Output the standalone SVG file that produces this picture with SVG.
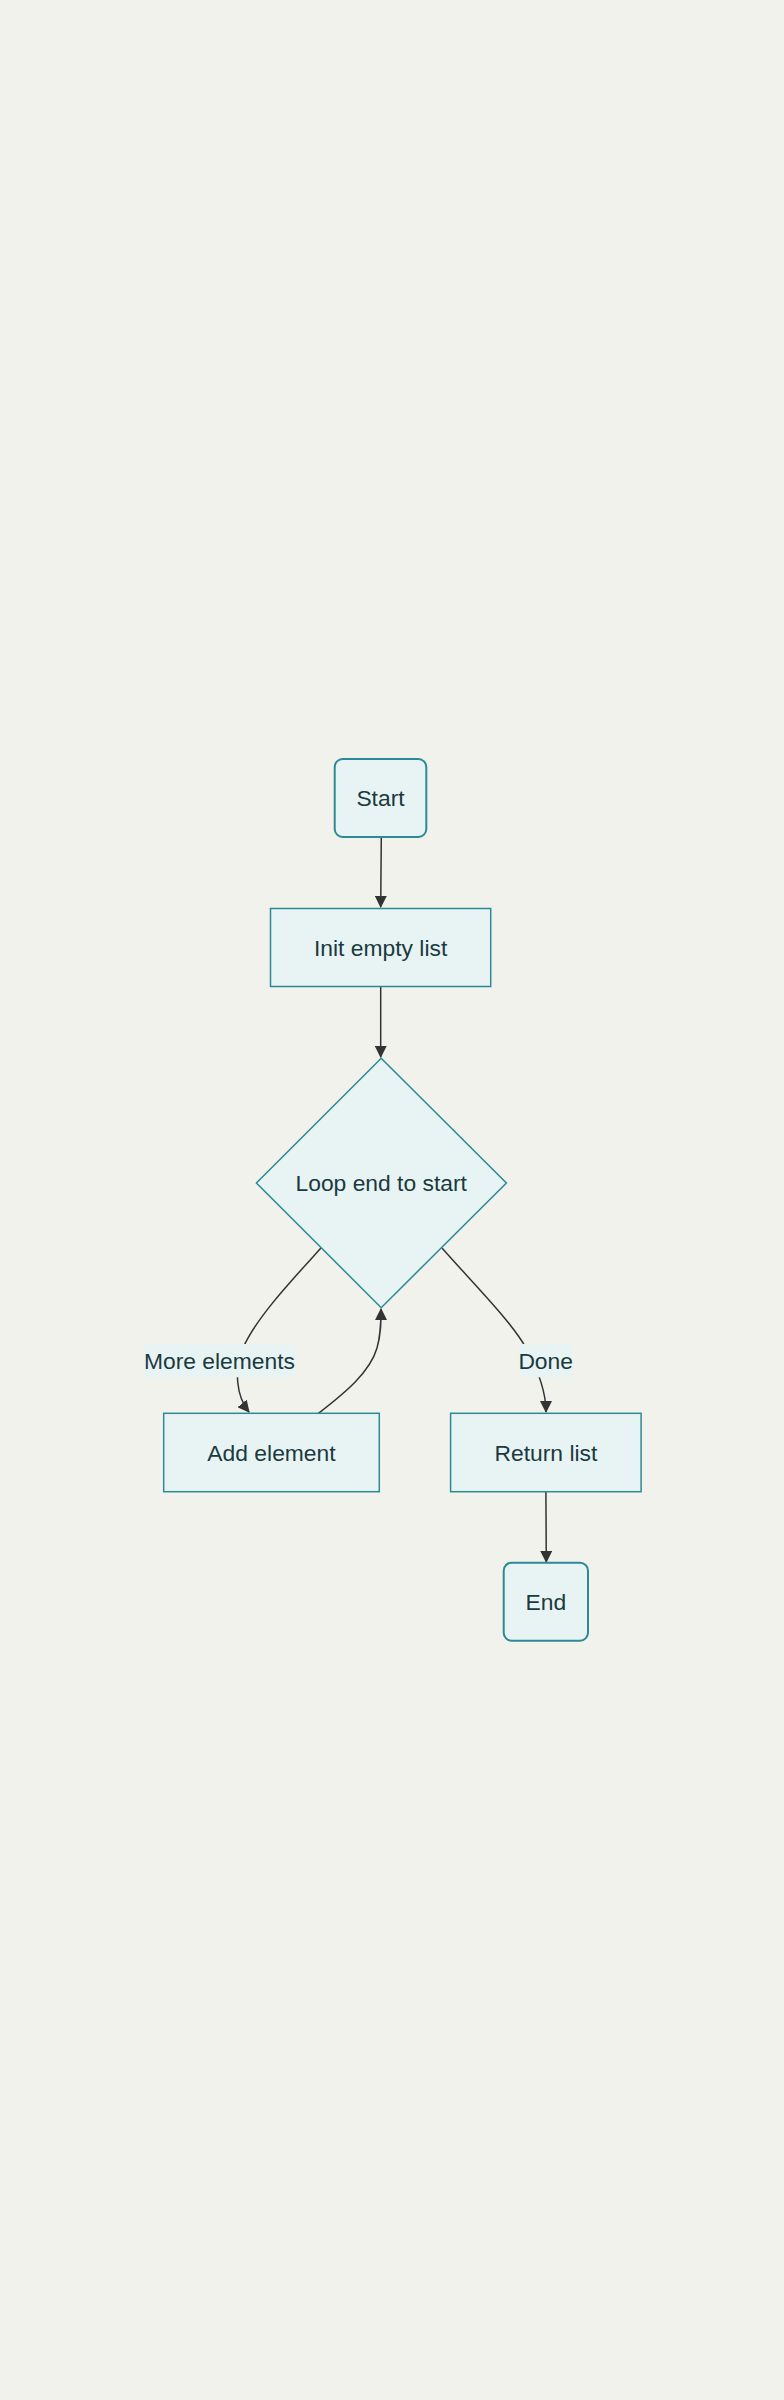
<svg xmlns="http://www.w3.org/2000/svg" width="784" height="2400" viewBox="0 0 784 2400">
<style>
.node rect, .node polygon { fill: #e8f4f4; stroke: #2a8a96; stroke-width: 1.5; }
.node rect.term { stroke-width: 2; }
.node text, .lbl text { font-family: "Liberation Sans", Arial, sans-serif; font-size: 22.85px; fill: #1a3a3f; text-anchor: middle; }
.edge { fill: none; stroke: #333333; stroke-width: 1.5; }
.lbl rect { fill: #e8f4f4; stroke: none; }
</style>
<defs>
<marker id="arrow" viewBox="0 0 12 12" refX="11" refY="6" markerWidth="12" markerHeight="12" markerUnits="userSpaceOnUse" orient="auto">
<path d="M0,0 L12,6 L0,12 z" fill="#333333"/>
</marker>
</defs>
<rect x="0" y="0" width="784" height="2400" fill="#f2f2ec"/>
<g id="connectors">
<path class="edge" d="M381.3,837 L380.7,907" marker-end="url(#arrow)"/>
<path class="edge" d="M380.7,986.5 L380.7,1057" marker-end="url(#arrow)"/>
<path class="edge" d="M321,1248 C292,1280 256,1318 243,1348 C234,1370 236,1396 249,1412" marker-end="url(#arrow)"/>
<path class="edge" d="M442,1248 C470,1280 512,1322 526,1348 C538,1370 546,1392 546,1412" marker-end="url(#arrow)"/>
<path class="edge" d="M318.4,1413.3 C346,1392 370,1372 377,1348 C381,1334 381,1322 381,1309" marker-end="url(#arrow)"/>
<path class="edge" d="M545.9,1491.7 L546.3,1562" marker-end="url(#arrow)"/>
</g>
<g id="label-more" class="lbl">
<rect x="144" y="1344" width="151" height="33.3"/>
<text x="219.5" y="1368.5">More elements</text>
</g>
<g id="label-done" class="lbl">
<rect x="519.2" y="1344" width="53" height="33.3"/>
<text x="545.7" y="1368.5">Done</text>
</g>
<g id="start" class="node">
<rect class="term" x="334.7" y="759" width="91.6" height="78" rx="8" ry="8"/>
<text x="380.5" y="806">Start</text>
</g>
<g id="init" class="node">
<rect x="270.5" y="908.5" width="220.2" height="78"/>
<text x="380.6" y="955.5">Init empty list</text>
</g>
<g id="loop" class="node">
<polygon points="381.2,1058.3 506.4,1183 381.2,1307.7 256.4,1183"/>
<text x="381.2" y="1191">Loop end to start</text>
</g>
<g id="add" class="node">
<rect x="163.7" y="1413.3" width="215.6" height="78.4"/>
<text x="271.5" y="1460.5">Add element</text>
</g>
<g id="return" class="node">
<rect x="450.6" y="1413.3" width="190.5" height="78.4"/>
<text x="545.9" y="1460.5">Return list</text>
</g>
<g id="end" class="node">
<rect class="term" x="503.7" y="1562.7" width="84.3" height="78" rx="8" ry="8"/>
<text x="545.9" y="1609.5">End</text>
</g>
</svg>
